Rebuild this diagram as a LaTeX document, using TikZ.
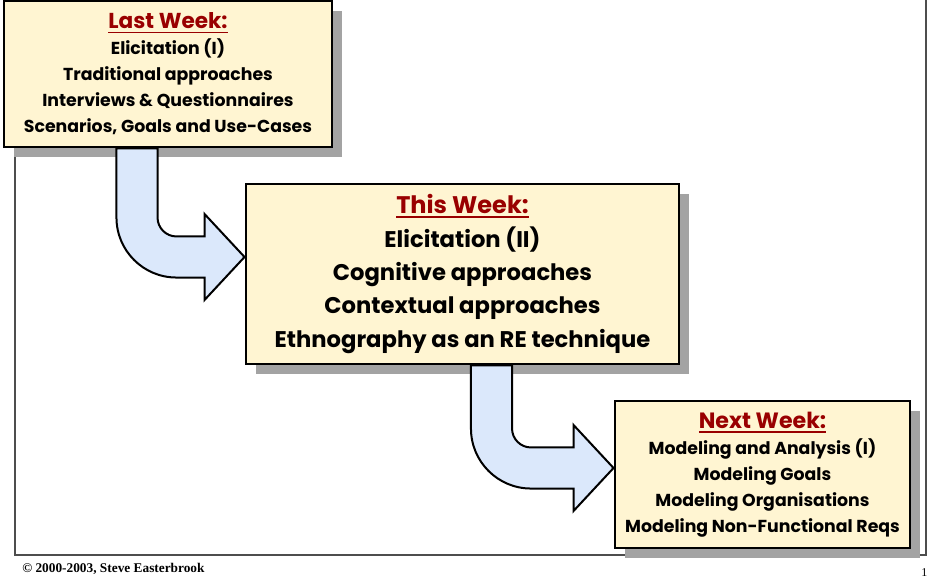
\documentclass[tikz,border=0pt]{standalone}
\usepackage{fontspec}
\setmainfont{Poppins}
\newfontfamily\footfont{Liberation Serif}
\usetikzlibrary{calc,shadows}

\definecolor{boxfill}{HTML}{FFF5D2}
\definecolor{arrowfill}{HTML}{DBE8FB}
\definecolor{titlered}{HTML}{990000}
\definecolor{shadowgray}{HTML}{A3A3A3}
\definecolor{framegray}{HTML}{4D4D4D}

% title with a solid rule under it
\newcommand\weektitle[2]{{\fontsize{#1}{#1}\selectfont\textcolor{titlered}{\setbox0\hbox{#2}\rlap{\rule[-3pt]{\wd0}{1pt}}\box0}}}

% bent block arrow: #1 = centre of the shaft top, #2 = arrow tip
\newcommand\bendarrow[2]{%
  \draw[blockarrow] let \p1=#1, \p2=#2 in
    (\x1-15.4pt,\y1) -- (\x1-15.4pt,\y2-15.4pt+45pt)
    arc[start angle=180,end angle=270,radius=45pt]
    -- (\x2-30pt,\y2-15.4pt) -- (\x2-30pt,\y2-32.25pt) -- (\x2,\y2)
    -- (\x2-30pt,\y2+32.25pt) -- (\x2-30pt,\y2+15.4pt)
    -- (\x1+15.4pt+14.25pt,\y2+15.4pt)
    arc[start angle=270,end angle=180,radius=14.25pt]
    -- (\x1+15.4pt,\y1) -- cycle;}

\tikzset{
  weekbox/.style={draw=black, line width=2.2pt, fill=boxfill, align=center,
    inner sep=0pt, font=\bfseries,
    drop shadow={shadow xshift=7.5pt, shadow yshift=-7.5pt, fill=shadowgray, opacity=1}},
  blockarrow/.style={draw=black, line width=1.5pt, fill=arrowfill, line join=miter},
  frame/.style={draw=framegray, line width=1.1pt},
}

\begin{document}
\begin{tikzpicture}[x=0.75pt,y=-0.75pt]
  \useasboundingbox (0,0) rectangle (929,584);

  % slide frame
  \draw[frame] (15,-10) rectangle (926,555);

  \node[weekbox, minimum width=246pt, minimum height=109.5pt,
        font=\bfseries\fontsize{13}{19.5}\selectfont] (b1) at (168,74)
    {\weektitle{16.2}{Last Week:}\\ Elicitation (I)\\ Traditional approaches\\
     Interviews \& Questionnaires\\ Scenarios, Goals and Use-Cases};

  \node[weekbox, minimum width=324.75pt, minimum height=135pt,
        font=\bfseries\fontsize{17}{25.1}\selectfont] (b2) at (462.5,274)
    {\weektitle{18}{This Week:}\\ Elicitation (II)\\ Cognitive approaches\\
     Contextual approaches\\ Ethnography as an RE technique};

  \node[weekbox, minimum width=221.25pt, minimum height=110.25pt,
        font=\bfseries\fontsize{13}{19.4}\selectfont] (b3) at (762.5,474.5)
    {\weektitle{16.6}{Next Week:}\\ Modeling and Analysis (I)\\ Modeling Goals\\
     Modeling Organisations\\ Modeling Non-Functional Reqs};

  \bendarrow{($(b1.south)+(-31,0)$)}{($(b2.west)+(0,-17)$)}
  \bendarrow{($(b2.south)+(29,0)$)}{($(b3.west)+(0,-6.5)$)}

  \node[anchor=base west, inner sep=0pt, font=\footfont\bfseries\fontsize{10}{12}\selectfont]
    (copy) at (22,573) {© 2000-2003, Steve Easterbrook};
  \node[anchor=base west, inner sep=0pt, font=\footfont\fontsize{9}{11}\selectfont]
    (page) at (921,577) {1};
\end{tikzpicture}
\end{document}
